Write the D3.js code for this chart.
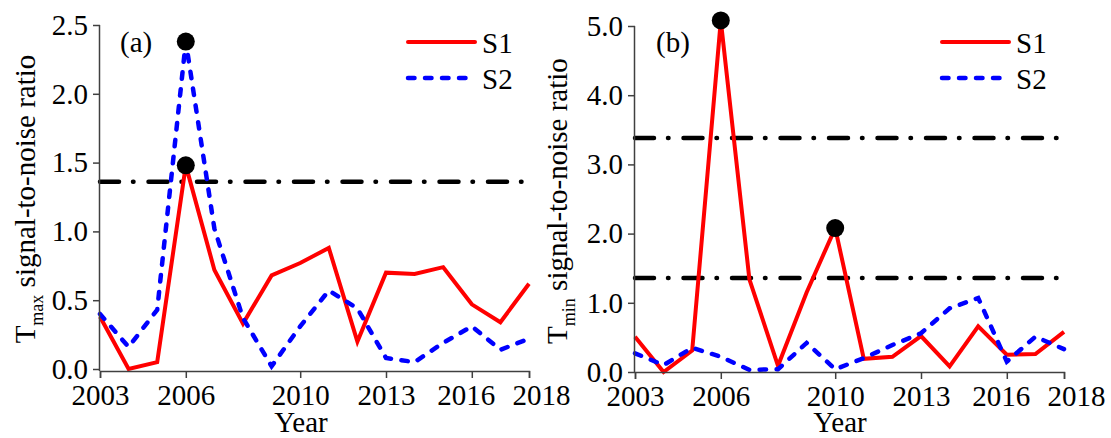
<!DOCTYPE html>
<html>
<head>
<meta charset="utf-8">
<script src="https://cdn.jsdelivr.net/npm/d3@7"></script>
<style>
    body { margin: 0; background: #fff; }
    svg { display: block; }
    svg text { font-family: "Liberation Serif", "Times New Roman", Times, "DejaVu Serif", serif; }
</style>
</head>
<body>
<div id="chart"></div>
<script>
const width = 1111;
const height = 438;
const serif = "Liberation Serif, Times New Roman, Times, DejaVu Serif, serif";

// data
const years = [2003, 2004, 2005, 2006, 2007, 2008, 2009, 2010, 2011, 2012, 2013, 2014, 2015, 2016, 2017, 2018];
const yearTicks = [2003, 2006, 2010, 2013, 2016, 2018];

const tmaxS1 = [0.38, 0.00, 0.05, 1.48, 0.72, 0.33, 0.68, 0.77, 0.88, 0.20, 0.70, 0.69, 0.74, 0.47, 0.34, 0.62];
const tmaxS2 = [0.40, 0.16, 0.43, 2.38, 1.02, 0.37, 0.02, 0.31, 0.57, 0.44, 0.08, 0.05, 0.19, 0.31, 0.14, 0.22];
const tmaxTicks = [0, 0.5, 1.0, 1.5, 2.0, 2.5];
const tmaxThresholds = [1.36];
const tmaxPeaks = [["S1", 2006], ["S2", 2006]];

const tminS1 = [0.51, 0.00, 0.31, 5.08, 1.34, 0.09, 1.15, 2.08, 0.19, 0.22, 0.52, 0.08, 0.66, 0.25, 0.26, 0.58];
const tminS2 = [0.27, 0.10, 0.35, 0.22, 0.03, 0.04, 0.42, 0.04, 0.20, 0.39, 0.56, 0.92, 1.07, 0.15, 0.51, 0.33];
const tminTicks = [0, 1.0, 2.0, 3.0, 4.0, 5.0];
const tminThresholds = [3.38, 1.36];
const tminPeaks = [["S1", 2006], ["S1", 2010]];

const seriesNames = ["S1", "S2"];

// the last two year labels are pushed apart so they don't collide
const yearLabelShift = {2016: -6, 2018: 12};

const panels = [
    {
        tag: "(a)", sub: "max", s1: tmaxS1, s2: tmaxS2, ticks: tmaxTicks,
        thresholds: tmaxThresholds, peaks: tmaxPeaks,
        left: 100, right: 529, top: 25, bottom: 369, axisY: 371, labelX: 35, yearX: 301,
        tagX: 120, legendX: 408
    },
    {
        tag: "(b)", sub: "min", s1: tminS1, s2: tminS2, ticks: tminTicks,
        thresholds: tminThresholds, peaks: tminPeaks,
        left: 635, right: 1064, top: 26, bottom: 372, axisY: 372, labelX: 567, yearX: 840,
        tagX: 656, legendX: 942
    }
];

const styles = {
    S1: {color: "#ff0000", width: 4, dash: null, cap: "butt"},
    S2: {color: "#0000ff", width: 4.5, dash: "6.5,10.5", cap: "round"}
};

const svg = d3.select("#chart").append("svg")
    .attr("width", width)
    .attr("height", height)
    .attr("font-family", serif);

svg.append("rect").attr("width", width).attr("height", height).attr("fill", "#fff");

panels.forEach(p => drawPanel(p));

function drawPanel(p) {
    const x = d3.scaleLinear().domain([2003, 2018]).range([p.left, p.right]);
    const y = d3.scaleLinear().domain([0, d3.max(p.ticks)]).range([p.bottom, p.top]);
    const g = svg.append("g");

    // threshold lines
    p.thresholds.forEach(t => {
        g.append("line")
            .attr("x1", x(2003)).attr("x2", x(2018))
            .attr("y1", y(t)).attr("y2", y(t))
            .attr("stroke", "#000")
            .attr("stroke-width", 4.5)
            .attr("stroke-linecap", "round")
            .attr("stroke-dasharray", "19,14,0.5,15");
    });

    const line = d3.line()
        .x((d, i) => x(years[i]))
        .y(d => y(d));

    const series = {S1: p.s1, S2: p.s2};
    seriesNames.forEach(name => {
        const st = styles[name];
        g.append("path")
            .datum(series[name])
            .attr("d", line)
            .attr("fill", "none")
            .attr("stroke", st.color)
            .attr("stroke-width", st.width)
            .attr("stroke-linecap", st.cap)
            .attr("stroke-linejoin", "miter")
            .attr("stroke-dasharray", st.dash);
    });

    // peak markers
    p.peaks.forEach(([name, yr]) => {
        const v = series[name][years.indexOf(yr)];
        g.append("circle")
            .attr("cx", x(yr))
            .attr("cy", y(v))
            .attr("r", 9)
            .attr("fill", "#000");
    });

    // axes
    const yAxis = g.append("g")
        .attr("transform", `translate(${p.left},0)`)
        .call(d3.axisLeft(y).tickValues(p.ticks).tickFormat(d3.format(".1f")).tickSize(7).tickPadding(5));
    yAxis.select(".domain").attr("d", `M-0.5,${p.axisY}V${p.top}`);

    const xAxis = g.append("g")
        .attr("transform", `translate(0,${p.axisY})`)
        .call(d3.axisBottom(x).tickValues(yearTicks).tickFormat(d3.format("d")).tickSize(7).tickPadding(6.5));
    xAxis.selectAll(".tick text")
        .attr("x", d => yearLabelShift[d] || 0);

    [yAxis, xAxis].forEach(a => {
        a.attr("font-family", serif).attr("font-size", 29);
        a.selectAll("text").attr("font-family", serif).attr("font-size", 29).attr("fill", "#000");
        a.selectAll("line").attr("stroke", "#404040").attr("stroke-width", 1.5);
        a.select(".domain").attr("stroke", "#404040").attr("stroke-width", 1.5);
    });

    // y label
    const yl = g.append("text")
        .attr("transform", `translate(${p.labelX},${(p.top + p.bottom) / 2 + 2}) rotate(-90)`)
        .attr("text-anchor", "middle")
        .attr("font-family", serif)
        .attr("font-size", 29);
    yl.append("tspan").text("T");
    yl.append("tspan").attr("font-size", 18).attr("dy", 8).text(p.sub);
    yl.append("tspan").attr("dy", -8).text(" signal-to-noise ratio");

    g.append("text")
        .attr("x", p.yearX).attr("y", 432)
        .attr("text-anchor", "middle")
        .attr("font-family", serif)
        .attr("font-size", 29)
        .text("Year");

    g.append("text")
        .attr("x", p.tagX).attr("y", 52)
        .attr("font-family", serif)
        .attr("font-size", 29)
        .text(p.tag);

    // legend
    seriesNames.forEach((name, i) => {
        const st = styles[name];
        const ly = 42 + i * 36;
        g.append("line")
            .attr("x1", p.legendX).attr("x2", p.legendX + (name === "S1" ? 67 : 62))
            .attr("y1", ly).attr("y2", ly)
            .attr("stroke", st.color)
            .attr("stroke-width", st.width)
            .attr("stroke-linecap", "round")
            .attr("stroke-dasharray", st.dash);
        g.append("text")
            .attr("x", p.legendX + 74).attr("y", ly + 11)
            .attr("font-family", serif)
            .attr("font-size", 29)
            .text(name);
    });
}
</script>
</body>
</html>
